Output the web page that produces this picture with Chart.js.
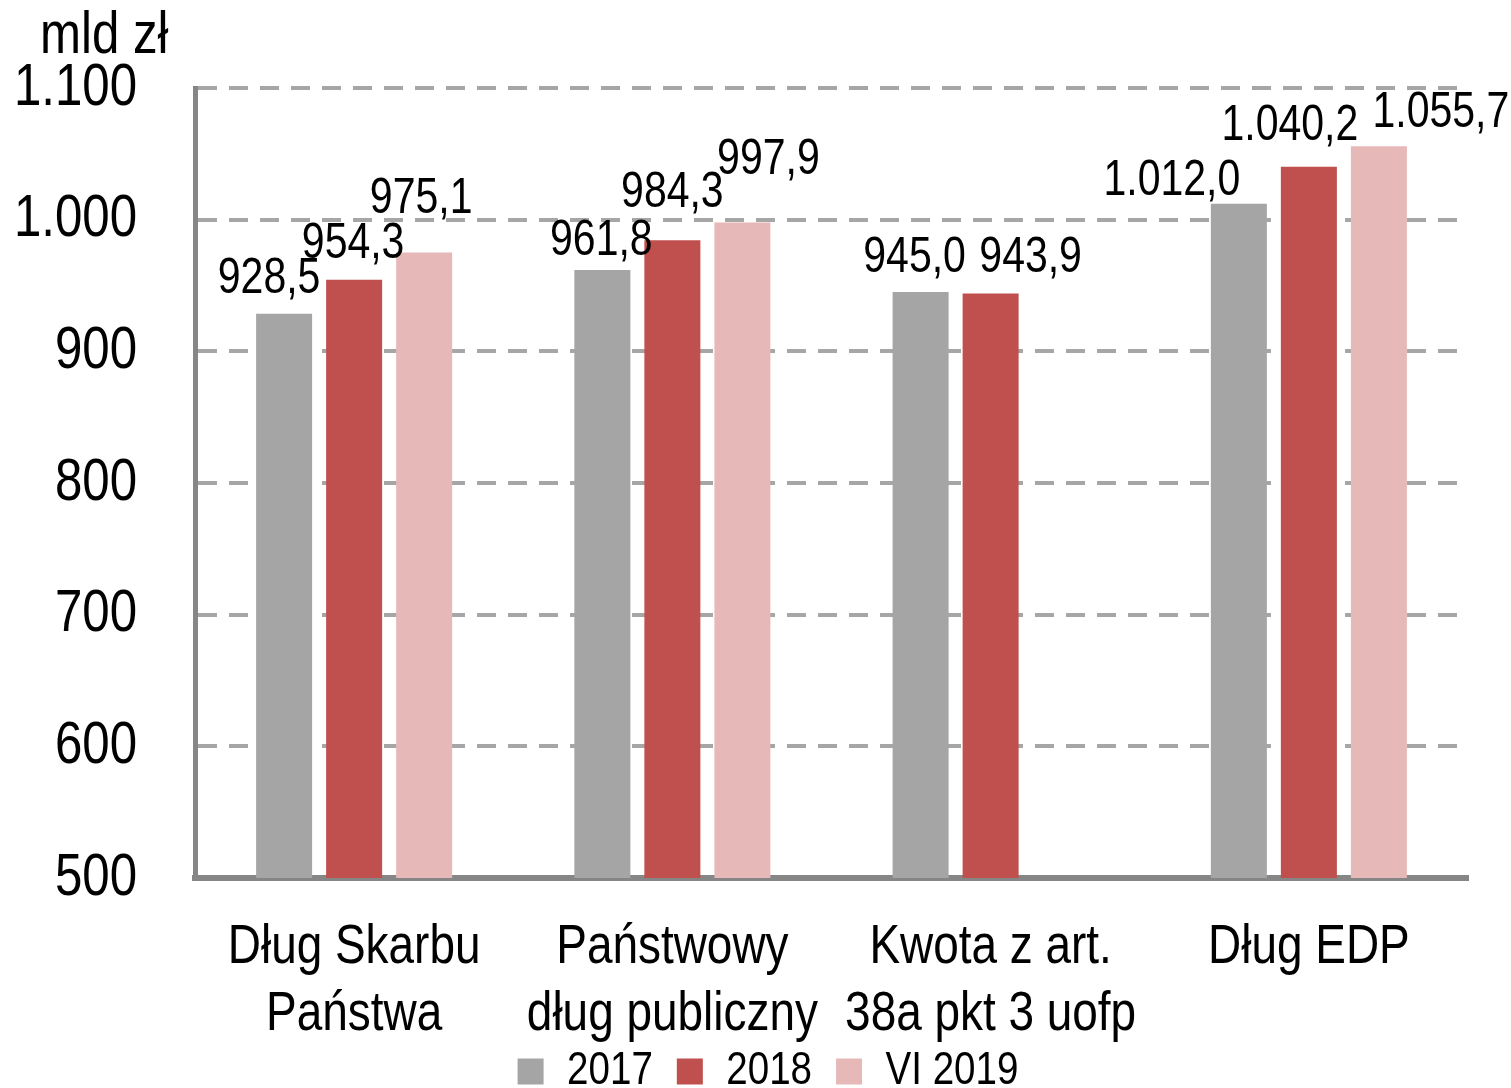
<!DOCTYPE html>
<html>
<head>
<meta charset="utf-8">
<script src="https://cdn.jsdelivr.net/npm/chart.js@4.4.1/dist/chart.umd.min.js"></script>
<style>
html,body{margin:0;padding:0;background:#fff;}
canvas{display:block;}
</style>
</head>
<body>
<canvas id="c" width="1511" height="1088"></canvas>
<script>
// ---- data ----
const categories = [['Dług Skarbu', 'Państwa'], ['Państwowy', 'dług publiczny'], ['Kwota z art.', '38a pkt 3 uofp'], ['Dług EDP']];
const seriesNames = ['2017', '2018', 'VI 2019'];
const values2017 = [928.5, 961.8, 945.0, 1012.0];
const values2018 = [954.3, 984.3, 943.9, 1040.2];
const valuesVI2019 = [975.1, 997.9, null, 1055.7];
const yTicks = [500, 600, 700, 800, 900, 1000, 1100];
const yTickLabels = ['500', '600', '700', '800', '900', '1.000', '1.100'];
const unitLabel = 'mld zł';

// ---- style ----
const FONT = '"Liberation Sans Narrow", "Arial Narrow", "Liberation Sans", Arial, sans-serif';
const colors = ['#A5A5A5', '#C0504D', '#E6B9B8'];
const TEXT_SQUEEZE = 0.82; // narrow (Arial Narrow-like) look of the original text
// label offsets [dx, distance of baseline above bar top]
const labelOffsets = [
  [[-15, 21], [-1, 15], [-6, 20], [-67, 9]],
  [[-1, 22], [0, 33], [40, 22], [-19, 27]],
  [[-3, 39], [26, 48], null, [62, 19]]
];

function fmt(v) {
  const parts = v.toFixed(1).split('.');
  let ip = parts[0];
  if (ip.length > 3) ip = ip.slice(0, -3) + '.' + ip.slice(-3);
  return ip + ',' + parts[1];
}

// condensed text rendering on this canvas
const canvas = document.getElementById('c');
const ctx2d = canvas.getContext('2d');
const origMeasure = ctx2d.measureText.bind(ctx2d);
const origFill = ctx2d.fillText.bind(ctx2d);
ctx2d.measureText = function (t) {
  const m = origMeasure(t);
  return {
    width: m.width * TEXT_SQUEEZE,
    actualBoundingBoxAscent: m.actualBoundingBoxAscent,
    actualBoundingBoxDescent: m.actualBoundingBoxDescent,
    actualBoundingBoxLeft: m.actualBoundingBoxLeft * TEXT_SQUEEZE,
    actualBoundingBoxRight: m.actualBoundingBoxRight * TEXT_SQUEEZE,
    fontBoundingBoxAscent: m.fontBoundingBoxAscent,
    fontBoundingBoxDescent: m.fontBoundingBoxDescent
  };
};
ctx2d.fillText = function (t, x, y, maxWidth) {
  const w = Math.max(origMeasure(t).width * TEXT_SQUEEZE, 0.1);
  origFill(t, x, y, (maxWidth !== undefined && maxWidth !== null) ? Math.min(maxWidth, w) : w);
};

const noClipPlugin = {
  id: 'noLabelClip',
  beforeDraw(chart) {
    Object.values(chart.scales).forEach(s => { s._computeLabelArea = () => undefined; });
  }
};

const labelPlugin = {
  id: 'valueLabels',
  afterDatasetsDraw(chart) {
    const ctx = chart.ctx;
    ctx.save();
    ctx.fillStyle = '#000';
    ctx.font = '50px ' + FONT;
    ctx.textAlign = 'center';
    ctx.textBaseline = 'alphabetic';
    chart.data.datasets.forEach((ds, di) => {
      const meta = chart.getDatasetMeta(di);
      meta.data.forEach((bar, i) => {
        const v = ds.data[i];
        if (v === null || v === undefined) return;
        const off = (labelOffsets[di] && labelOffsets[di][i]) || [0, 20];
        ctx.fillText(fmt(v), bar.x + off[0], bar.y - off[1]);
      });
    });
    ctx.font = '60px ' + FONT;
    ctx.textAlign = 'left';
    ctx.fillText(unitLabel, 40, 53);
    ctx.restore();
  }
};

const datasetValues = [values2017, values2018, valuesVI2019];

new Chart(canvas, {
  type: 'bar',
  data: {
    labels: categories,
    datasets: seriesNames.map((name, i) => ({
      label: name,
      data: datasetValues[i],
      backgroundColor: colors[i],
      borderWidth: 0,
      categoryPercentage: 0.66,
      barPercentage: 0.8
    }))
  },
  options: {
    responsive: false,
    animation: false,
    devicePixelRatio: 1,
    layout: { padding: { top: 88, left: 68, right: 43, bottom: -17 } },
    plugins: {
      title: { display: false },
      tooltip: { enabled: false },
      legend: {
        position: 'bottom',
        labels: {
          boxWidth: 26,
          boxHeight: 26,
          padding: 24,
          color: '#000',
          font: { family: FONT, size: 47 }
        }
      }
    },
    scales: {
      x: {
        grid: { display: false, drawTicks: false },
        border: { display: true, color: '#868686', width: 6 },
        ticks: {
          color: '#000',
          padding: 36,
          maxRotation: 0,
          autoSkip: false,
          font: { family: FONT, size: 56, lineHeight: 1.2 }
        },
        afterFit(scale) { scale.height = 146; }
      },
      y: {
        min: 500,
        max: 1100,
        afterBuildTicks(scale) { scale.ticks = yTicks.map(v => ({ value: v })); },
        grid: { color: '#A6A6A6', lineWidth: 4, drawTicks: false },
        border: { display: true, color: '#868686', width: 5, dash: [19, 12] },
        ticks: {
          color: '#000',
          padding: 58,
          font: { family: FONT, size: 60, lineHeight: 1 },
          callback(value) {
            const idx = yTicks.indexOf(value);
            return idx >= 0 ? yTickLabels[idx] : '';
          }
        },
        afterFit(scale) { scale.width = 127; }
      }
    }
  },
  plugins: [noClipPlugin, labelPlugin]
});
</script>
</body>
</html>
